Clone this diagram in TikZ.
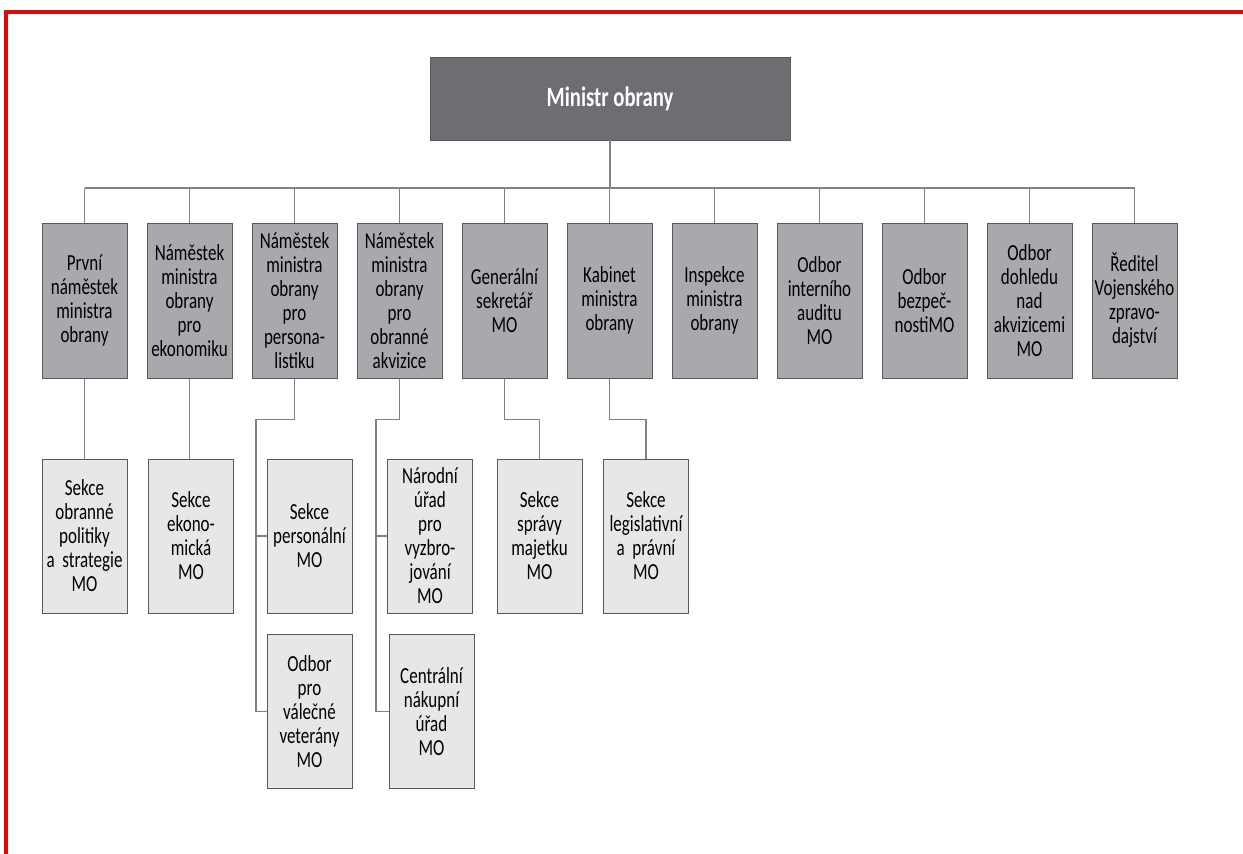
\documentclass[tikz,border=0pt]{standalone}
\usepackage{fontspec}
\setmainfont{Carlito}[FakeStretch=0.74]
\usepackage{tikz}
\definecolor{ministrfill}{HTML}{6D6E71}
\definecolor{utvarfill}{HTML}{A7A9AC}
\definecolor{sekcefill}{HTML}{E6E7E8}
\definecolor{boxline}{HTML}{58595B}
\definecolor{linegray}{HTML}{808285}
\definecolor{okraj}{RGB}{225,10,10}
\tikzstyle{box}=[draw=boxline, line width=1pt, text width=84pt, text centered,
  inner sep=0.5pt, font=\fontsize{23}{24}\selectfont]
\tikzstyle{utvar} = [box, fill=utvarfill, minimum width=85pt,
  minimum height=155pt]
\tikzstyle{sekce} = [box, fill=sekcefill, minimum width=85pt,
  minimum height=154pt]
\tikzstyle{ministr} = [draw=boxline, fill=ministrfill, text=white,
  minimum width=360pt, minimum height=83pt,
  font=\bfseries\fontsize{28}{30}\selectfont]
\tikzstyle{line} = [draw, line width=1.3pt, color=linegray]
\newcommand{\utvar}[2]{node (p#1) [utvar] {#2}}
\newcommand{\sekce}[2]{node (#1) [sekce] {#2}}

\begin{document}
\begin{tikzpicture}[x=1pt,y=-1pt]
\useasboundingbox (0,0) rectangle (1243,854);
\draw [okraj, line width=4pt] (6,854) -- (6,12) -- (1243,12);

  % Draw diagram elements
\path (610,98.5) node (m) [ministr] {Ministr obrany};

\path (84.5,300.5) \utvar{1}{První\\náměstek\\ministra\\obrany};
\path (p1)+(105,0) \utvar{2}{Náměstek\\ministra\\obrany\\pro\\ekonomiku};
\path (p2)+(105,0) \utvar{3}{Náměstek\\ministra\\obrany\\pro\\persona-\\listiku};
\path (p3)+(105,0) \utvar{4}{Náměstek\\ministra\\obrany\\pro\\obranné\\akvizice};
\path (p4)+(105,0) \utvar{5}{Generální\\sekretář\\MO};
\path (p5)+(105,0) \utvar{6}{Kabinet\\ministra\\obrany};
\path (p6)+(105,0) \utvar{7}{Inspekce\\ministra\\obrany};
\path (p7)+(105,0) \utvar{8}{Odbor\\interního\\auditu\\MO};
\path (p8)+(105,0) \utvar{9}{Odbor\\bezpeč-\\nostiMO};
\path (p9)+(105,0) \utvar{10}{Odbor\\dohledu\\nad\\akvizicemi\\MO};
\path (p10)+(105,0) \utvar{11}{Ředitel\\Vojenského\\zpravo-\\dajství};

\path (p1)+(0,235.5) \sekce{s1}{Sekce\\obranné\\politiky\\a strategie\\MO};
\path (p2)+(1.5,235.5) \sekce{s2}{Sekce\\ekono-\\mická\\MO};
\path (p3)+(15,235.5) \sekce{s3}{Sekce\\personální\\MO};
\path (s3)+(0,175.5) \sekce{v3}{Odbor\\pro\\válečné\\veterány\\MO};
\path (p4)+(30.5,235.5) \sekce{s4}{Národní\\úřad\\pro\\vyzbro-\\jování\\MO};
\path (s4)+(1.5,175.5) \sekce{c4}{Centrální\\nákupní\\úřad\\MO};
\path (p5)+(35,235.5) \sekce{s5}{Sekce\\správy\\majetku\\MO};
\path (p6)+(36.5,235.5) \sekce{s6}{Sekce\\legislativní\\a právní\\MO};

  % Draw lines between elements
\coordinate (bus) at (610,188);
\path [line] (m.south) -- (bus);
\path [line] (p1.north |- bus) -- (p11.north |- bus);
\foreach \i in {1,...,11}
  \path [line] (p\i.north) -- (p\i.north |- bus);

\path [line] (p1.south) -- (s1.north);
\path [line] (p2.south) -- (s2.north -| p2.south);
\path [line] (p3.south) -- +(0,41) -- +(-38.5,41) |- (v3.west);
\path [line] (s3.west) -- +(-11,0);
\path [line] (p4.south) -- +(0,41) -- +(-23.5,41) |- (c4.west);
\path [line] (s4.west) -- +(-11,0);
\path [line] (p5.south) -- +(0,41) -| (s5.north);
\path [line] (p6.south) -- +(0,41) -| (s6.north);
\end{tikzpicture}
\end{document}
